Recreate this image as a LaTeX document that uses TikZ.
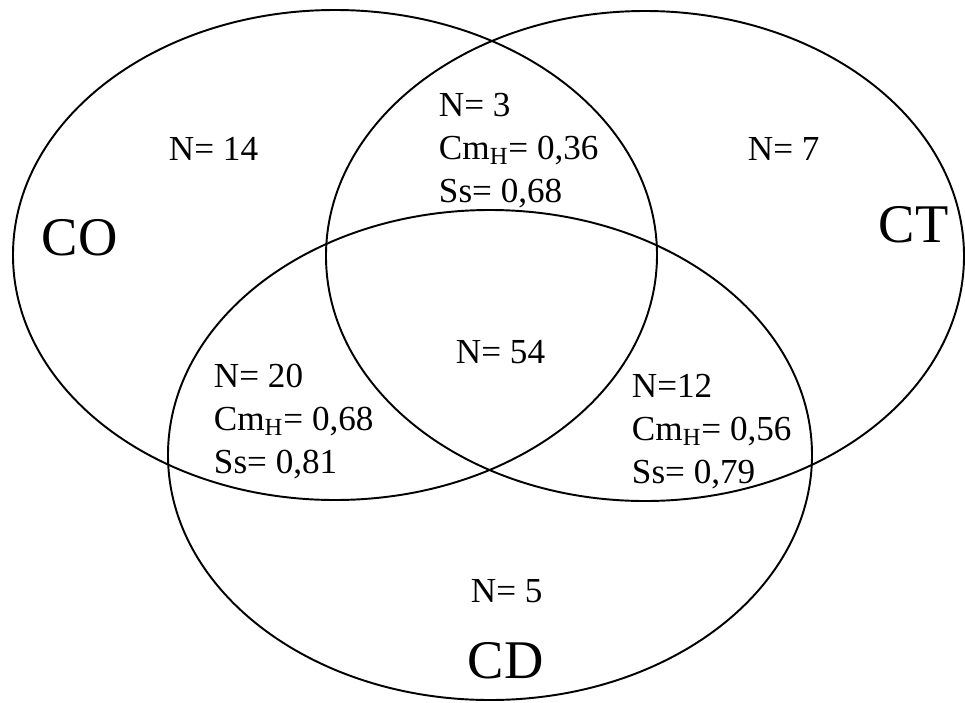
\documentclass[tikz,border=0pt]{standalone}
\usepackage{fontspec}
\setmainfont{Liberation Serif}
\usetikzlibrary{shapes.geometric}
\tikzset{
  every picture/.style={line width=1.1pt},
  vennset/.style={draw, ellipse, inner sep=0pt, minimum width=12.88cm, minimum height=9.8cm},
  val/.style={anchor=base west, align=left, inner sep=0pt, font=\fontsize{20}{24.4}\selectfont},
  setname/.style={anchor=base west, inner sep=0pt, font=\fontsize{31}{36}\selectfont},
}

\begin{document}
\begin{tikzpicture}[x=0.2mm, y=-0.2mm]
  \useasboundingbox (0,0) rectangle (965,702);
  % the three sets
  \node[vennset] (co) at (335,255) {};
  \node[vennset, minimum width=12.76cm] (ct) at (645,256) {};
  \node[vennset] (cd) at (490,455) {};
  \node[setname] (coname) at (41,255) {CO};
  \node[setname] (ctname) at (878,242) {CT};
  \node[setname] (cdname) at (467,678) {CD};
  % counts and indices (base = last line)
  \node[val] (onlyco) at (168,160) {N= 14};
  \node[val] (onlyct) at (747,160) {N= 7};
  \node[val] (onlycd) at (470,602) {N= 5};
  \node[val] (all) at (455,363) {N= 54};
  \node[val] (coct) at (438,202) {N= 3\\Cm\textsubscript{H}= 0,36\\Ss= 0,68};
  \node[val] (cocd) at (213,473) {N= 20\\Cm\textsubscript{H}= 0,68\\Ss= 0,81};
  \node[val] (ctcd) at (631,483) {N=12\\Cm\textsubscript{H}= 0,56\\Ss= 0,79};
\end{tikzpicture}
\end{document}
